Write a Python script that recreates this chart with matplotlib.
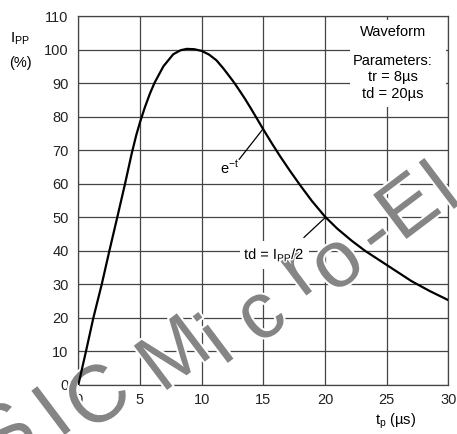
import matplotlib
matplotlib.use("Agg")
import matplotlib.pyplot as plt
import matplotlib.patheffects as pe
from matplotlib.patches import Rectangle

plt.rcParams['font.family'] = ['Liberation Sans', 'DejaVu Sans']
plt.rcParams['mathtext.fontset'] = 'custom'
plt.rcParams['mathtext.rm'] = 'Liberation Sans'

# pulse waveform (8/20 us)
t_us = [0, 0.62, 1.22, 1.9, 2.52, 3.16, 3.79, 4.33, 4.7, 5.0, 5.4, 5.8,
        6.17, 6.9, 7.7, 8.3, 8.8, 9.4, 10.0, 10.6, 11.2, 11.8, 12.44, 12.7,
        13.5, 14.0, 14.55, 15.0, 15.7, 16.36, 17.17, 17.98, 18.93, 20.0,
        21.0, 22.17, 23.25, 25.0, 27.0, 28.5, 30.0]
ipp_pct = [0, 10, 20, 30, 40, 50, 60, 69, 74.5, 78.3, 82.8, 86.8,
           90, 95, 98.6, 99.8, 100.2, 100.1, 99.6, 98.5, 96.8, 94.2, 91.1, 89.8,
           85.4, 82.4, 79.0, 76.2, 72.0, 68.2, 63.8, 59.6, 54.9, 50.2,
           46.6, 43.0, 40.0, 35.8, 31.0, 28.0, 25.3]

x_ticks = [0, 5, 10, 15, 20, 25, 30]
y_ticks = [0, 10, 20, 30, 40, 50, 60, 70, 80, 90, 100, 110]

W, H = 457, 434
fig = plt.figure(figsize=(W / 100, H / 100), dpi=100)
ax = fig.add_axes([78.3 / W, 1 - 385 / H, 370 / W, 369 / H])

ax.set_xlim(0, 30)
ax.set_ylim(0, 110)
ax.set_xticks(x_ticks)
ax.set_yticks(y_ticks)
ax.tick_params(length=0, labelsize=10.5, colors='#222222')
ax.tick_params(axis='y', pad=7)
ax.tick_params(axis='x', pad=6)
ax.grid(True, color='#444444', linewidth=0.9)
ax.set_axisbelow(True)
for s in ax.spines.values():
    s.set_color('#444444')
    s.set_linewidth(0.9)

# curve
ax.plot(t_us, ipp_pct, color='black', linewidth=1.6, zorder=5,
        solid_joinstyle='round', solid_capstyle='round')

# parameter box
ax.add_patch(Rectangle((22.0, 83.0), 7.8, 25.8, facecolor='white',
                       edgecolor='none', zorder=2))
ax.text(25.5, 105.2, 'Waveform', ha='center', va='center', fontsize=10.5, zorder=3)
ax.text(25.5, 96.6, 'Parameters:', ha='center', va='center', fontsize=10.5, zorder=3)
ax.text(25.5, 91.7, 'tr = 8µs', ha='center', va='center', fontsize=10.5, zorder=3)
ax.text(25.5, 86.8, 'td = 20µs', ha='center', va='center', fontsize=10.5, zorder=3)

# e^-t callout
ax.plot([13.05, 14.95], [67.3, 76.2], color='black', linewidth=0.9, zorder=6)
ax.text(12.3, 64.8, r'$\mathregular{e^{-t}}$', ha='center', va='center',
        fontsize=10.5, zorder=6)

# td callout
ax.plot([18.3, 19.96], [44.0, 49.7], color='black', linewidth=0.9, zorder=6)
ax.add_patch(Rectangle((13.1, 34.5), 5.6, 8.5, facecolor='white',
                       edgecolor='none', zorder=2))
ax.text(15.9, 38.8, r'td = I$_{\mathregular{PP}}$/2', ha='center', va='center',
        fontsize=10.5, zorder=6,
        path_effects=[pe.withStroke(linewidth=2, foreground='white')])

# axis labels
fig.text(20 / W, 1 - 39 / H, r'I$_{\mathregular{PP}}$', ha='center', va='center',
         fontsize=11)
fig.text(20 / W, 1 - 63 / H, '(%)', ha='center', va='center', fontsize=10.5)
fig.text(396 / W, 1 - 421 / H, r't$_{\mathregular{p}}$ (µs)', ha='center',
         va='center', fontsize=10.5)

# watermark (inside the axes so the curve stays on top)
wm = [('S', 8, 438), ('I', 55, 416), ('C', 100, 400), ('M', 176, 357),
      ('i', 218, 344), ('c', 262, 317), ('r', 300, 274), ('o', 338, 265),
      ('-', 377, 237), ('E', 410, 210), ('l', 444, 190)]
for ch, px, py in wm:
    ax.text(px / W, 1 - py / H, ch, transform=fig.transFigure, clip_on=False,
            ha='center', va='center', fontsize=58,
            rotation=37, rotation_mode='anchor', color='#858585', zorder=4,
            path_effects=[pe.withStroke(linewidth=3, foreground='white')])

fig.savefig('out.png', dpi=100)
